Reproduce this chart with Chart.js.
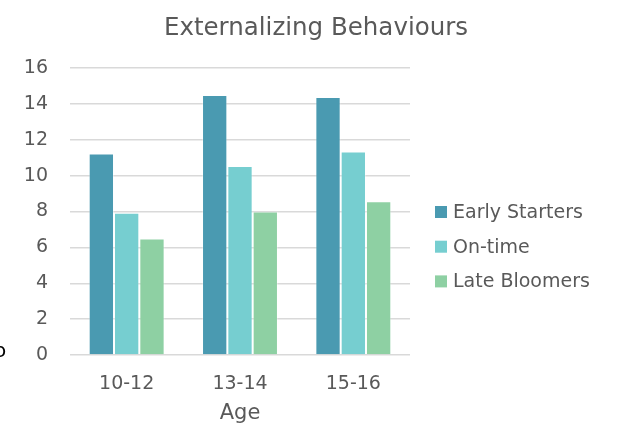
<!DOCTYPE html>
<html>
<head>
<meta charset="utf-8">
<script src="https://cdn.jsdelivr.net/npm/chart.js@4/dist/chart.umd.min.js"></script>
<style>
  html, body { margin: 0; padding: 0; background: #fff; }
  #wrap { width: 622px; height: 440px; }
</style>
</head>
<body>
<div id="wrap"><canvas id="behaviourChart" width="622" height="440"></canvas></div>
<script>
const ageGroups = ['10-12', '13-14', '15-16'];
const earlyStarters = [11.24, 14.5, 14.38];
const onTime = [7.93, 10.53, 11.35];
const lateBloomers = [6.5, 8.0, 8.57];
const yTicks = [0, 2, 4, 6, 8, 10, 12, 14, 16];

const chartTitle = 'Externalizing Behaviours';
const textGrey = '#595959';
const fontFamily = '"DejaVu Sans", sans-serif';

// title and legend drawn by hand so they sit where the original has them
const sideLegend = {
    id: 'sideLegend',
    afterDraw(chart) {
        const c = chart.ctx;
        c.save();
        c.fillStyle = textGrey;
        c.font = '24.5px ' + fontFamily;
        c.textAlign = 'center';
        c.textBaseline = 'middle';
        c.fillText(chartTitle, 316, 29);

        c.textAlign = 'left';
        c.font = '19px ' + fontFamily;
        chart.data.datasets.forEach((ds, i) => {
            const y = 212 + i * 34.7;
            c.fillStyle = ds.backgroundColor;
            c.fillRect(435, y - 6, 12, 12);
            c.fillStyle = textGrey;
            c.fillText(ds.label, 453, y + 1);
        });
        // cut-off letter at the left edge of the original picture
        c.fillStyle = '#000';
        c.font = '20px ' + fontFamily;
        c.textBaseline = 'alphabetic';
        c.fillText('o', -6, 357);
        c.restore();
    }
};

function drawChart() {
    const ctx = document.getElementById('behaviourChart').getContext('2d');
    const behaviourChart = new Chart(ctx, {
        type: 'bar',
        data: {
            labels: ageGroups,
            datasets: [{
                label: 'Early Starters',
                data: earlyStarters,
                backgroundColor: '#4A9AB1',
                borderColor: 'rgba(255,255,255,0.35)',
                borderWidth: 1
            }, {
                label: 'On-time',
                data: onTime,
                backgroundColor: '#76CED0',
                borderColor: 'rgba(255,255,255,0.35)',
                borderWidth: 1
            }, {
                label: 'Late Bloomers',
                data: lateBloomers,
                backgroundColor: '#8ED0A3',
                borderColor: 'rgba(255,255,255,0.35)',
                borderWidth: 1
            }]
        },
        options: {
            responsive: false,
            animation: false,
            layout: {
                padding: { left: 0, right: 212, top: 68, bottom: 0 }
            },
            datasets: {
                bar: { categoryPercentage: 0.67, barPercentage: 1.0 }
            },
            scales: {
                x: {
                    afterFit(scale) { scale.height = 85; },
                    grid: { display: false, drawTicks: false },
                    border: { display: false },
                    ticks: { color: textGrey, font: { family: fontFamily, size: 19 }, padding: 18 },
                    title: {
                        display: true,
                        text: 'Age',
                        color: textGrey,
                        font: { family: fontFamily, size: 21 },
                        padding: { top: 2, bottom: 14 }
                    }
                },
                y: {
                    min: 0,
                    max: 16,
                    afterBuildTicks(axis) {
                        axis.ticks = yTicks.map(v => ({ value: v }));
                    },
                    afterFit(scale) { scale.width = 70; },
                    grid: { color: '#D9D9D9', lineWidth: 1.5, drawTicks: false },
                    border: { display: false },
                    ticks: { color: textGrey, font: { family: fontFamily, size: 19 }, padding: 22 }
                }
            },
            plugins: {
                title: { display: false },
                legend: { display: false },
                tooltip: { enabled: false }
            }
        },
        plugins: [sideLegend]
    });
}

document.fonts.load('19px "DejaVu Sans"').then(drawChart, drawChart);
</script>
</body>
</html>
